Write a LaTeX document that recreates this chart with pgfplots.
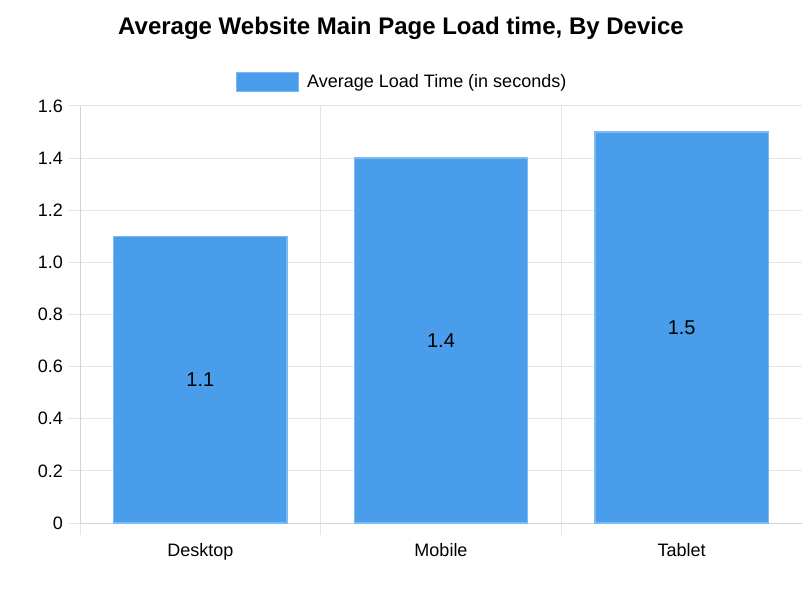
\documentclass[border=0pt]{standalone}
\usepackage{fontspec}
\setmainfont{Liberation Sans}
\usepackage{pgfplots}
\pgfplotsset{compat=1.18}
\usepackage{pgfplotstable}

\definecolor{barfill}{HTML}{4A9DEB}
\definecolor{barline}{HTML}{7DB9F2}
\definecolor{gridc}{HTML}{E5E5E5}
\definecolor{axisc}{HTML}{D4D4D4}

\pgfplotstableread{
x y
0 1.1
1 1.4
2 1.5
}\loadtimes

\begin{document}
\begin{tikzpicture}[x=1pt,y=1pt]
\path[use as bounding box] (0,0) rectangle (802,600);
\node[font=\fontsize{24}{28}\selectfont\bfseries] at (401,572) {Average Website Main Page Load time, By Device};
\begin{axis}[
  at={(80pt,77pt)}, anchor=south west,
  scale only axis, width=722pt, height=417pt,
  xmin=-0.5, xmax=2.5, ymin=0, ymax=1.6,
  xtick={-0.5,0.5,1.5,2.5}, xticklabels={},
  extra x ticks={0,1,2},
  extra x tick labels={Desktop,Mobile,Tablet},
  extra x tick style={major tick length=0pt, grid=none},
  ytick={0,0.2,0.4,0.6,0.8,1.0,1.2,1.4,1.6},
  yticklabels={0,0.2,0.4,0.6,0.8,1.0,1.2,1.4,1.6},
  axis x line=bottom, axis y line=left,
  axis line style={draw=axisc, line width=1pt, -},
  xmajorgrids, ymajorgrids,
  grid style={gridc, line width=1pt},
  tick align=outside, major tick length=12pt,
  tick style={gridc, line width=1pt},
  ticklabel style={font=\fontsize{18}{21}\selectfont},
  xticklabel style={anchor=base, yshift=-33pt},
  yticklabel style={inner sep=0pt, xshift=-5pt},
  /pgf/number format/assume math mode=true,
  legend style={at={(0.4446,1.0576)}, anchor=center, draw=none, fill=none,
    font=\fontsize{18}{21}\selectfont, nodes={inner sep=0pt}},
  legend image code/.code={\path[#1] (0pt,-9.5pt) rectangle (62pt,9.5pt); \path (70pt,0pt);},
]
\addplot[ybar, bar width=0.72, fill=barfill, draw=barline, line width=1.5pt]
  table[x=x, y=y] {\loadtimes};
\addlegendentry{Average Load Time (in seconds)}
\addplot[draw=none, mark=none, forget plot, nodes near coords, point meta=explicit,
  every node near coord/.style={anchor=center, font=\fontsize{20}{24}\selectfont, text=black}]
  table[x=x, y expr=\thisrow{y}/2, meta=y] {\loadtimes};
\end{axis}
\end{tikzpicture}
\end{document}
